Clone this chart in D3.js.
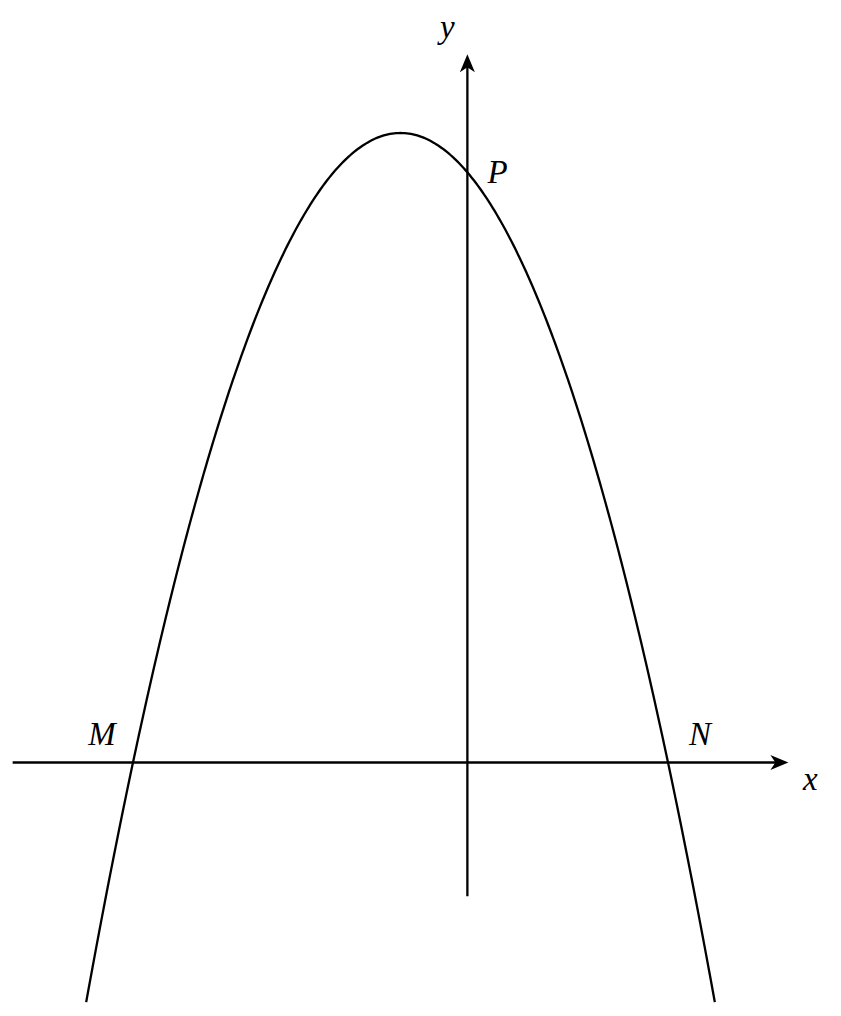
<!DOCTYPE html>
<html>
<head>
<meta charset="utf-8">
<script src="https://cdn.jsdelivr.net/npm/d3@7"></script>
<style>
  html, body { margin: 0; padding: 0; background: #fff; }
  svg text { font-family: "Liberation Serif", "DejaVu Serif", serif; font-style: italic; font-size: 33px; fill: #000; }
</style>
</head>
<body>
<svg id="chart" width="841" height="1016"></svg>
<script>
// parabola y = a*x^2 + b*x + c, with roots at M and N
const curveCoeffs = [-1, -2, 15];
const curveXRange = [-5.7, 3.7];
// axis extents (math units)
const xAxisRange = [-6.8, 4.8];
const yAxisRange = [-3.4, 18];
const axisNames = ["x", "y"];
// labelled points
const pointNames = ["M", "N", "P"];
const pointX = [-5, 3, 0];
const pointY = [0, 0, 15];

const svg = d3.select("#chart");

// pixel layout: x=-5 at 133, x=3 at 668 ; y=0 at 762.5, y=16 at 133
const x = d3.scaleLinear().domain([-5, 3]).range([133, 668]);
const y = d3.scaleLinear().domain([0, 16]).range([762.5, 133]);

const f = t => curveCoeffs[0] * t * t + curveCoeffs[1] * t + curveCoeffs[2];

// arrow head (stealth like), tip at 0,0 pointing right
const arrowPath = "M0,0 L-18,-7.5 L-13,0 L-18,7.5 Z";

// x axis
svg.append("line")
  .attr("x1", x(xAxisRange[0])).attr("y1", y(0))
  .attr("x2", x(xAxisRange[1]) - 6).attr("y2", y(0))
  .attr("stroke", "#000").attr("stroke-width", 2.3);
svg.append("path")
  .attr("d", arrowPath)
  .attr("transform", "translate(" + x(xAxisRange[1]) + "," + y(0) + ")")
  .attr("fill", "#000");

// y axis
svg.append("line")
  .attr("x1", x(0)).attr("y1", y(yAxisRange[0]))
  .attr("x2", x(0)).attr("y2", y(yAxisRange[1]) + 6)
  .attr("stroke", "#000").attr("stroke-width", 2.3);
svg.append("path")
  .attr("d", arrowPath)
  .attr("transform", "translate(" + x(0) + "," + y(yAxisRange[1]) + ") rotate(-90)")
  .attr("fill", "#000");

// axis names
svg.append("text")
  .attr("x", x(xAxisRange[1]) + 22).attr("y", y(0) + 27)
  .attr("text-anchor", "middle")
  .text(axisNames[0]);
svg.append("text")
  .attr("x", x(0) - 20).attr("y", y(yAxisRange[1]) - 16)
  .attr("text-anchor", "middle")
  .text(axisNames[1]);

// curve
const samples = d3.range(curveXRange[0], curveXRange[1] + 1e-9, (curveXRange[1] - curveXRange[0]) / 300)
  .map(t => [t, f(t)]);
svg.append("path")
  .datum(samples)
  .attr("fill", "none")
  .attr("stroke", "#000")
  .attr("stroke-width", 2.3)
  .attr("d", d3.line().x(d => x(d[0])).y(d => y(d[1])));

// point labels
const labelOffsets = { M: [-31, -18, "middle"], N: [32, -18, "middle"], P: [20, 11, "start"] };
svg.selectAll(".pt")
  .data(pointNames)
  .enter().append("text")
  .attr("class", "pt")
  .attr("x", (d, i) => x(pointX[i]) + labelOffsets[d][0])
  .attr("y", (d, i) => y(pointY[i]) + labelOffsets[d][1])
  .attr("text-anchor", d => labelOffsets[d][2])
  .text(d => d);
</script>
</body>
</html>
